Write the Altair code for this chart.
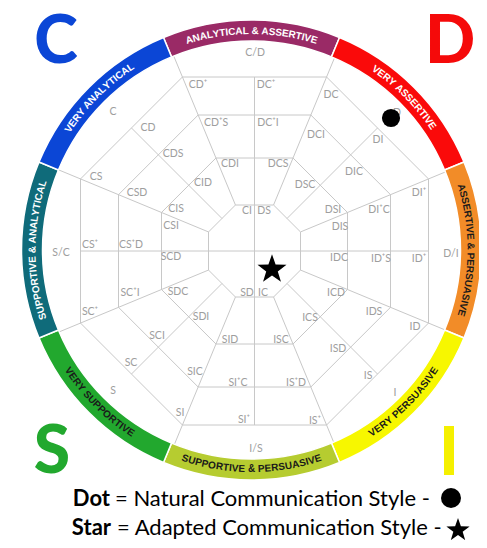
import math
import altair as alt
import pandas as pd

# ---------------- values (pixel units of the 487x548 image) ----------------
GRID_CENTER = (256.5, 251.0)
RING_CENTER = (253.5, 250.0)
OCTAGON_APOTHEMS = [46, 93, 136, 174]
RING_INNER, RING_OUTER = 209, 230

band_labels = ["ANALYTICAL & ASSERTIVE", "VERY ASSERTIVE", "ASSERTIVE & PERSUASIVE", "VERY PERSUASIVE",
               "SUPPORTIVE & PERSUASIVE", "VERY SUPPORTIVE", "SUPPORTIVE & ANALYTICAL", "VERY ANALYTICAL"]
band_fill = ["#9A2A66", "#FA0A0A", "#F28C28", "#F7F700", "#B6CC30", "#22A82E", "#0F6B7A", "#0B46D6"]
band_text_color = ["#FFFFFF", "#FFFFFF", "#1A1A1A", "#1A1A1A", "#1A1A1A", "#1A1A1A", "#FFFFFF", "#FFFFFF"]
band_text_inward = [False, False, False, True, True, True, False, False]

cell_labels = ["C", "C/D", "D", "D/I", "I", "I/S", "S", "S/C",
               "CI", "DS", "SD", "IC",
               "CD⁺", "DC⁺", "CD⁺S", "DC⁺I", "CDI", "DCS",
               "DC", "DI", "DCI", "DIC", "DSC", "DSI",
               "DI⁺", "DI⁺C", "DIS", "ID⁺", "ID⁺S", "IDC",
               "ICD", "ICS", "IDS", "ISD", "ID", "IS",
               "SID", "ISC", "SI⁺C", "IS⁺D", "SI⁺", "IS⁺",
               "SDC", "SDI", "SCI", "SIC", "SC", "SI",
               "CS⁺", "CS⁺D", "CSI", "SC⁺", "SC⁺I", "SCD",
               "CD", "CS", "CDS", "CSD", "CID", "CIS"]
cell_x = [115, 257, 399, 453, 397, 258, 115, 63,
          249, 266, 249, 265,
          200, 268, 218, 270, 232, 280,
          333, 380, 318, 356, 307, 335,
          421, 381, 342, 421, 383, 341,
          338, 312, 376, 340, 417, 370,
          232, 283, 240, 298, 246, 317,
          180, 203, 159, 197, 133, 182,
          92, 133, 173, 92, 132, 173,
          150, 98, 175, 139, 205, 178]
cell_y = [112, 53, 113, 254, 393, 449, 391, 253,
          211, 211, 293, 293,
          85, 85, 123, 123, 164, 164,
          95, 140, 135, 172, 185, 210,
          193, 210, 227, 259, 259, 258,
          293, 318, 312, 349, 327, 376,
          340, 340, 383, 383, 420, 421,
          292, 317, 336, 372, 363, 413,
          245, 245, 226, 312, 293, 257,
          128, 177, 154, 193, 183, 209]

marker_names = ["Natural", "Adapted"]
marker_kind = ["dot", "star"]
marker_x = [393, 274]
marker_y = [118, 268]
marker_size = [330, 930]

letters = ["C", "D", "S", "I"]
letter_colors = ["#0B46D6", "#F50A0A", "#22A82E", "#F5F000"]
letter_x = [58, 452, 54, 451]
letter_y = [63, 63, 473, 475]

legend_bold = ["Dot", "Star"]
legend_rest = ["= Natural Communication Style -", "= Adapted Communication Style -"]
legend_bold_x = [112, 113]
legend_rest_x = [117, 119]
legend_y = [499, 528]
legend_symbol = ["dot", "star"]
legend_symbol_x = [453, 460]
legend_symbol_y = [498, 529]
legend_symbol_size = [400, 600]

# ---------------- derived geometry ----------------
D2R = math.pi / 180.0
HALF = 22.5 * D2R


def polar(center, phi, r):
    return center[0] + r * math.sin(phi), center[1] - r * math.cos(phi)


# five-pointed star symbol in the [-1, 1] box
star_pts = []
for i in range(10):
    rr = 1.0 if i % 2 == 0 else 0.40
    a = (-90 + 36 * i) * D2R
    star_pts.append(f"{rr * math.cos(a):.3f},{rr * math.sin(a) + 0.1:.3f}")
STAR_PATH = "M" + " L".join(star_pts) + " Z"
SHAPES = {"dot": "circle", "star": STAR_PATH}

segs = []
for a in OCTAGON_APOTHEMS:
    rv = a / math.cos(HALF)
    for k in range(8):
        p0 = polar(GRID_CENTER, k * 45 * D2R - HALF, rv)
        p1 = polar(GRID_CENTER, k * 45 * D2R + HALF, rv)
        segs.append((p0[0], p0[1], p1[0], p1[1]))
r_in = OCTAGON_APOTHEMS[0] / math.cos(HALF)
for k in range(8):
    p0 = polar(GRID_CENTER, k * 45 * D2R + HALF, r_in)
    p1 = polar(GRID_CENTER, k * 45 * D2R + HALF, RING_INNER + 4)
    segs.append((p0[0], p0[1], p1[0], p1[1]))
amax = OCTAGON_APOTHEMS[-1]
for k in (0, 2):
    p0 = polar(GRID_CENTER, k * 45 * D2R, amax)
    p1 = polar(GRID_CENTER, k * 45 * D2R + math.pi, amax)
    segs.append((p0[0], p0[1], p1[0], p1[1]))
for k in (1, 3, 5, 7):
    p0 = polar(GRID_CENTER, k * 45 * D2R, OCTAGON_APOTHEMS[0])
    p1 = polar(GRID_CENTER, k * 45 * D2R, amax)
    segs.append((p0[0], p0[1], p1[0], p1[1]))
seg_df = pd.DataFrame(segs, columns=["x", "y", "x2", "y2"])

band_df = pd.DataFrame({
    "cx": [RING_CENTER[0]] * 8,
    "cy": [RING_CENTER[1]] * 8,
    "t0": [(k * 45 - 22.5) * D2R for k in range(8)],
    "t1": [(k * 45 + 22.5) * D2R for k in range(8)],
    "r0": [RING_OUTER] * 8,
    "r1": [RING_INNER] * 8,
    "fill": band_fill,
})

W = {"A": .722, "C": .722, "D": .722, "E": .667, "I": .278, "L": .611, "N": .722, "O": .778,
     "P": .667, "R": .722, "S": .667, "T": .611, "U": .722, "V": .667, "Y": .667, "&": .722, " ": .278}
FS_BAND = 10
R_TEXT = (RING_INNER + RING_OUTER) / 2 - 0.5
chars = []
for k, label in enumerate(band_labels):
    widths = [W.get(c, .667) * FS_BAND for c in label]
    total = sum(widths)
    s = -total / 2
    for c, w in zip(label, widths):
        mid = s + w / 2
        s += w
        if c == " ":
            continue
        delta = mid / R_TEXT
        phi = k * 45 * D2R + (-delta if band_text_inward[k] else delta)
        px, py = polar(RING_CENTER, phi, R_TEXT)
        rot = phi / D2R - (180 if band_text_inward[k] else 0)
        chars.append({"x": px, "y": py, "ch": c, "rot": rot % 360, "col": band_text_color[k]})
char_df = pd.DataFrame(chars)

cell_df = pd.DataFrame({"x": cell_x, "y": cell_y, "label": cell_labels})
marker_df = pd.DataFrame({"x": marker_x, "y": marker_y, "name": marker_names,
                          "shape": [SHAPES[k] for k in marker_kind], "size": marker_size})
letter_df = pd.DataFrame({"x": letter_x, "y": letter_y, "t": letters, "col": letter_colors})
legend_df = pd.DataFrame({"bx": legend_bold_x, "rx": legend_rest_x, "y": legend_y,
                          "bold": legend_bold, "rest": legend_rest})
legsym_df = pd.DataFrame({"x": legend_symbol_x, "y": legend_symbol_y,
                          "shape": [SHAPES[k] for k in legend_symbol], "size": legend_symbol_size})

# ---------------- chart ----------------
# the svg must stay inside the 8px page margins (471 x 532);
# the view is shifted so that 1 data unit = 1 picture pixel (x nudged 2px left to fit the ring)
VIEW_W, VIEW_H = 479, 540
X_SHIFT = 2
xs = alt.Scale(domain=[X_SHIFT, VIEW_W + X_SHIFT], nice=False, zero=False)
ys = alt.Scale(domain=[0, VIEW_H], nice=False, zero=False, reverse=True)


def X(f):
    return alt.X(f, type="quantitative", scale=xs, axis=None)


def Y(f):
    return alt.Y(f, type="quantitative", scale=ys, axis=None)


rules = alt.Chart(seg_df).mark_rule(color="#C8C8C8", strokeWidth=1).encode(
    x=X("x"), y=Y("y"), x2="x2", y2="y2")

band = alt.Chart(band_df).mark_arc(stroke="white", strokeWidth=1.5).encode(
    x=X("cx"), y=Y("cy"),
    theta=alt.Theta("t0:Q", scale=None), theta2="t1:Q",
    radius=alt.Radius("r0:Q", scale=None), radius2="r1:Q",
    fill=alt.Fill("fill:N", scale=None))

band_text = alt.Chart(char_df).mark_text(font="Liberation Sans", fontWeight="bold", fontSize=FS_BAND,
                                         align="center", baseline="middle").encode(
    x=X("x"), y=Y("y"), text="ch:N",
    angle=alt.Angle("rot:Q", scale=None), color=alt.Color("col:N", scale=None))

cells = alt.Chart(cell_df).mark_text(font="Lato", fontSize=10.5, color="#9E9E9E",
                                     align="center", baseline="middle").encode(
    x=X("x"), y=Y("y"), text="label:N")

markers = alt.Chart(marker_df).mark_point(filled=True, color="black", opacity=1).encode(
    x=X("x"), y=Y("y"),
    shape=alt.Shape("shape:N", scale=None),
    size=alt.Size("size:Q", scale=None))

big = alt.Chart(letter_df).mark_text(font="Lato", fontWeight=900, fontSize=66,
                                     align="center", baseline="alphabetic").encode(
    x=X("x"), y=Y("y"), text="t:N", color=alt.Color("col:N", scale=None))

leg_bold = alt.Chart(legend_df).mark_text(font="Lato", fontWeight="bold", fontSize=22, color="black",
                                          align="right", baseline="middle").encode(
    x=X("bx"), y=Y("y"), text="bold:N")
leg_rest = alt.Chart(legend_df).mark_text(font="Lato", fontSize=22, color="black",
                                          align="left", baseline="middle").encode(
    x=X("rx"), y=Y("y"), text="rest:N")
leg_sym = alt.Chart(legsym_df).mark_point(filled=True, color="black", opacity=1).encode(
    x=X("x"), y=Y("y"),
    shape=alt.Shape("shape:N", scale=None),
    size=alt.Size("size:Q", scale=None))

chart = alt.layer(rules, band, band_text, cells, markers, big, leg_bold, leg_rest, leg_sym).properties(
    width=VIEW_W, height=VIEW_H, autosize="none", background="white",
    padding={"left": -8, "top": -8, "right": 0, "bottom": 0}
).configure_view(stroke=None)

chart.save("out.html", embed_options={"renderer": "svg", "actions": False})
